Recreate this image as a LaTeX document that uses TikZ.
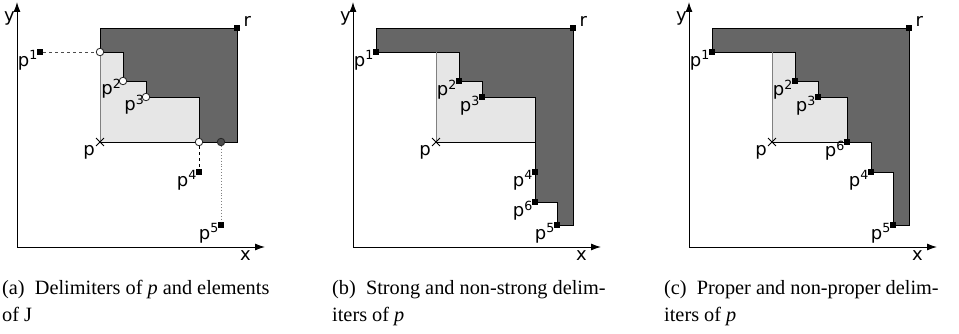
\documentclass[tikz,border=0pt]{standalone}
\usepackage{fontspec}
\setmainfont{Liberation Serif}
\newfontfamily\lblfont{DejaVu Sans}
\usetikzlibrary{positioning, shapes.misc, arrows.meta}
\definecolor{DarkRegion}{RGB}{102, 102, 102}
\definecolor{LightRegion}{RGB}{230, 230, 230}
\definecolor{EdgeGray}{RGB}{128, 128, 128}

\begin{document}
\begin{tikzpicture}[x=1pt, y=1pt,
    axis/.style={line width=1pt, -{Latex[length=10pt, width=7pt]}},
    dark/.style={fill=DarkRegion, draw=black, line width=0.9pt},
    pt/.style={fill=black, inner sep=0pt, minimum size=6.5pt},
    hole/.style={circle, draw=black!85, fill=white, line width=0.8pt, inner sep=0pt, minimum size=7.5pt},
    solid hole/.style={hole, fill=black!70},
    crossmark/.style={cross out, draw, line width=0.9pt, inner sep=0pt, minimum size=7pt},
    lbl/.style={font=\lblfont\fontsize{18}{20}\selectfont, inner sep=0pt},
    captext/.style={font=\fontsize{20.3}{27}\selectfont, inner sep=0pt, anchor=base west}]
  \useasboundingbox (0,0) rectangle (959,333);

  % (a) delimiters and elements of J
  \begin{scope}[shift={(17,86)}]
    \coordinate (oa) at (0,0);
    \coordinate (xa) at (248,0);
    \coordinate (ya) at (0,245);
    \draw[axis] (oa) -- (xa);
    \draw[axis] (oa) -- (ya);
    \node[lbl, below left=3pt and 14pt of xa] (xlaba) {x};
    \node[lbl, below left=9pt and 2pt of ya] (ylaba) {y};

    \fill[LightRegion] (83,105) -- (83,195) -- (106,195) -- (106,166) -- (129,166) -- (129,150) -- (182,150) -- (182,105) -- cycle;
    \draw[dark] (83,195) -- (83,219) -- (220,219) -- (220,105) -- (182,105) -- (182,150) -- (129,150) -- (129,166) -- (106,166) -- (106,195) -- cycle;
    \draw[EdgeGray, line width=0.9pt] (83,105) -- (83,195);
    \draw[line width=0.9pt] (83,105) -- (220,105);

    \node[crossmark] (pa) at (83,105) {};
    \node[pt] (p1a) at (23,195) {};
    \node[pt] (p4a) at (182,75) {};
    \node[pt] (p5a) at (204,22) {};
    \node[pt] (ra) at (220,219) {};
    \node[hole] (q1a) at (83,195) {};
    \node[hole] (q2a) at (106,166) {};
    \node[hole] (q3a) at (129,150) {};
    \node[hole] (q4a) at (182,105) {};
    \node[solid hole] (q5a) at (204,105) {};

    \draw[dashed, black!70, line width=0.9pt] (p1a) -- (q1a);
    \draw[dashed, line width=0.9pt] (q4a) -- (p4a);
    \draw[dotted, EdgeGray, line width=0.9pt] (q5a) -- (p5a);

    \node[lbl, below left=-5pt and -1.5pt of p1a] (p1laba) {p\textsuperscript{1}};
    \node[lbl, below left=-5pt and -1.5pt of q2a] (p2laba) {p\textsuperscript{2}};
    \node[lbl, below left=-5pt and -1.5pt of q3a] (p3laba) {p\textsuperscript{3}};
    \node[lbl, below left=-5pt and -1.5pt of p4a] (p4laba) {p\textsuperscript{4}};
    \node[lbl, below left=-5pt and -1.5pt of p5a] (p5laba) {p\textsuperscript{5}};
    \node[lbl, below left=-1pt and 1pt of pa] (plaba) {p};
    \node[lbl, above right=-2pt and 3pt of ra] (rlaba) {r};
  \end{scope}

  % (b) strong and non-strong
  \begin{scope}[shift={(353,86)}]
    \coordinate (ob) at (0,0);
    \coordinate (xb) at (248,0);
    \coordinate (yb) at (0,245);
    \draw[axis] (ob) -- (xb);
    \draw[axis] (ob) -- (yb);
    \node[lbl, below left=3pt and 14pt of xb] (xlabb) {x};
    \node[lbl, below left=9pt and 2pt of yb] (ylabb) {y};

    \fill[LightRegion] (83,105) -- (83,195) -- (106,195) -- (106,166) -- (129,166) -- (129,150) -- (182,150) -- (182,105) -- cycle;
    \draw[dark] (23,195) -- (23,219) -- (220,219) -- (220,22) -- (204,22) -- (204,45) -- (182,45) -- (182,150) -- (129,150) -- (129,166) -- (106,166) -- (106,195) -- cycle;
    \draw[EdgeGray, line width=0.9pt] (83,105) -- (83,195);
    \draw[line width=0.9pt] (83,105) -- (182,105);

    \node[crossmark] (pb) at (83,105) {};
    \node[pt] (p1b) at (23,195) {};
    \node[pt] (p2b) at (106,166) {};
    \node[pt] (p3b) at (129,150) {};
    \node[pt] (p4b) at (182,75) {};
    \node[pt] (p6b) at (182,45) {};
    \node[pt] (p5b) at (204,22) {};
    \node[pt] (rb) at (220,219) {};

    \node[lbl, below left=-5pt and -1.5pt of p1b] (p1labb) {p\textsuperscript{1}};
    \node[lbl, below left=-5pt and -1.5pt of p2b] (p2labb) {p\textsuperscript{2}};
    \node[lbl, below left=-5pt and -1.5pt of p3b] (p3labb) {p\textsuperscript{3}};
    \node[lbl, below left=-5pt and -1.5pt of p4b] (p4labb) {p\textsuperscript{4}};
    \node[lbl, below left=-5pt and -1.5pt of p6b] (p6labb) {p\textsuperscript{6}};
    \node[lbl, below left=-5pt and -1.5pt of p5b] (p5labb) {p\textsuperscript{5}};
    \node[lbl, below left=-1pt and 1pt of pb] (plabb) {p};
    \node[lbl, above right=-2pt and 3pt of rb] (rlabb) {r};
  \end{scope}

  % (c) proper and non-proper
  \begin{scope}[shift={(689,86)}]
    \coordinate (oc) at (0,0);
    \coordinate (xc) at (248,0);
    \coordinate (yc) at (0,245);
    \draw[axis] (oc) -- (xc);
    \draw[axis] (oc) -- (yc);
    \node[lbl, below left=3pt and 14pt of xc] (xlabc) {x};
    \node[lbl, below left=9pt and 2pt of yc] (ylabc) {y};

    \fill[LightRegion] (83,105) -- (83,195) -- (106,195) -- (106,166) -- (129,166) -- (129,150) -- (158,150) -- (158,105) -- cycle;
    \draw[dark] (23,195) -- (23,219) -- (220,219) -- (220,22) -- (204,22) -- (204,75) -- (182,75) -- (182,105) -- (158,105) -- (158,150) -- (129,150) -- (129,166) -- (106,166) -- (106,195) -- cycle;
    \draw[EdgeGray, line width=0.9pt] (83,105) -- (83,195);
    \draw[line width=0.9pt] (83,105) -- (158,105);

    \node[crossmark] (pc) at (83,105) {};
    \node[pt] (p1c) at (23,195) {};
    \node[pt] (p2c) at (106,166) {};
    \node[pt] (p3c) at (129,150) {};
    \node[pt] (p6c) at (158,105) {};
    \node[pt] (p4c) at (182,75) {};
    \node[pt] (p5c) at (204,22) {};
    \node[pt] (rc) at (220,219) {};

    \node[lbl, below left=-5pt and -1.5pt of p1c] (p1labc) {p\textsuperscript{1}};
    \node[lbl, below left=-5pt and -1.5pt of p2c] (p2labc) {p\textsuperscript{2}};
    \node[lbl, below left=-5pt and -1.5pt of p3c] (p3labc) {p\textsuperscript{3}};
    \node[lbl, below left=-5pt and -1.5pt of p6c] (p6labc) {p\textsuperscript{6}};
    \node[lbl, below left=-5pt and -1.5pt of p4c] (p4labc) {p\textsuperscript{4}};
    \node[lbl, below left=-5pt and -1.5pt of p5c] (p5labc) {p\textsuperscript{5}};
    \node[lbl, below left=-1pt and 1pt of pc] (plabc) {p};
    \node[lbl, above right=-2pt and 3pt of rc] (rlabc) {r};
  \end{scope}

  % Captions
  \node[captext] (capa1) at (2,39) {(a)\enspace Delimiters of \textit{p} and elements};
  \node[captext] (capa2) at (2,12) {of J};
  \node[captext] (capb1) at (332,39) {(b)\enspace Strong and non-strong delim-};
  \node[captext] (capb2) at (332,12) {iters of \textit{p}};
  \node[captext] (capc1) at (664,39) {(c)\enspace Proper and non-proper delim-};
  \node[captext] (capc2) at (664,12) {iters of \textit{p}};
\end{tikzpicture}
\end{document}
